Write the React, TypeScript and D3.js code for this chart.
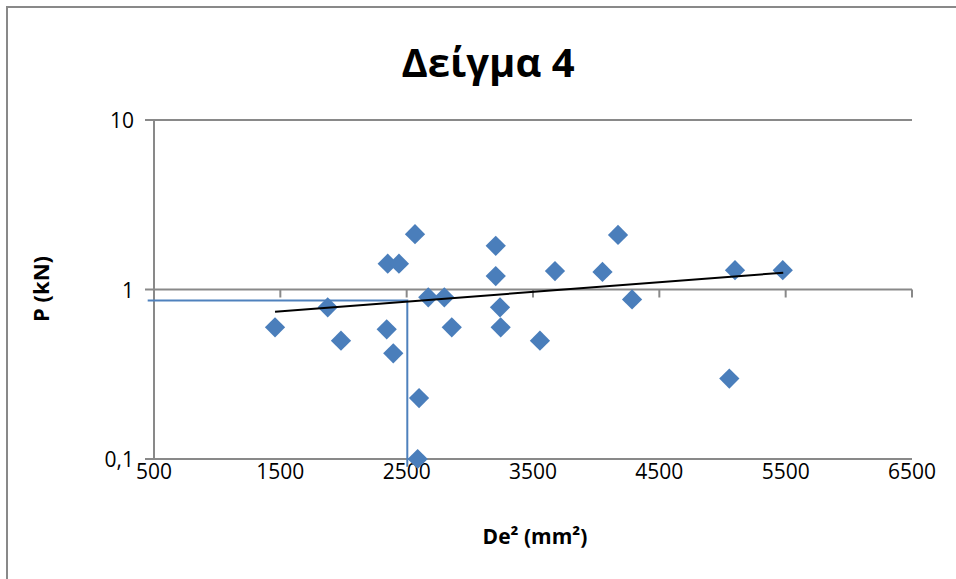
import React, { useEffect, useRef } from 'react';
import * as d3 from 'd3';

// De^2 (mm^2) and P (kN)
const de2 = [1458, 1875, 1980, 2342, 2394, 2350, 2439, 2566, 2598, 2587, 2671, 2798, 2857,
  3205, 3205, 3239, 3244, 3555, 3674, 4050, 4173, 4284, 5054, 5099, 5477];
const pKn = [0.598, 0.785, 0.499, 0.582, 0.42, 1.42, 1.42, 2.12, 0.229, 0.1, 0.9, 0.9, 0.598,
  1.81, 1.2, 0.785, 0.598, 0.499, 1.285, 1.27, 2.1, 0.873, 0.298, 1.3, 1.3];

// exponential trendline ends
const trendX = [1458, 5481];
const trendP = [0.74, 1.256];

// hand drawn guide lines
const guideX = [450, 2505, 2505];
const guideP = [0.86, 0.86, 0.09];

const xTicks = [500, 1500, 2500, 3500, 4500, 5500, 6500];
const yTicks = [0.1, 1, 10];
const yTickLabels = ['0,1', '1', '10'];

const title = 'Δείγμα 4';
const xTitle = 'De² (mm²)';
const yTitle = 'P (kN)';

const W = 956;
const H = 579;
const font = '"Open Sans", "Noto Sans", sans-serif';

export default function App() {
  const ref = useRef<SVGSVGElement>(null);

  useEffect(() => {
    const svg = d3.select(ref.current);
    svg.selectAll('*').remove();

    const x = d3.scaleLinear().domain([500, 6500]).range([154, 912]);
    const y = d3.scaleLog().domain([0.1, 10]).range([459, 120]);
    const grey = '#898989';

    svg.append('rect')
      .attr('width', W).attr('height', H).attr('fill', '#fff');

    svg.append('rect')
      .attr('x', 7).attr('y', 7)
      .attr('width', W + 20).attr('height', H + 20)
      .attr('fill', 'none').attr('stroke', grey).attr('stroke-width', 2);

    svg.append('text')
      .attr('x', 488).attr('y', 61)
      .attr('text-anchor', 'middle').attr('dominant-baseline', 'central')
      .attr('font-family', font).attr('font-weight', 'bold').attr('font-size', 40)
      .text(title);

    // gridlines / axis lines
    svg.append('g')
      .selectAll('line')
      .data(yTicks)
      .join('line')
      .attr('x1', x(500) - 9).attr('x2', x(6500))
      .attr('y1', (d) => y(d)).attr('y2', (d) => y(d))
      .attr('stroke', grey).attr('stroke-width', 2);

    svg.append('line')
      .attr('x1', x(500)).attr('x2', x(500))
      .attr('y1', y(10)).attr('y2', y(0.1))
      .attr('stroke', grey).attr('stroke-width', 2);

    // x axis crosses at P = 1
    svg.append('g')
      .selectAll('line')
      .data(xTicks.slice(1))
      .join('line')
      .attr('x1', (d) => x(d)).attr('x2', (d) => x(d))
      .attr('y1', y(1)).attr('y2', y(1) + 8)
      .attr('stroke', grey).attr('stroke-width', 2);

    svg.append('g')
      .attr('font-family', font).attr('font-size', 21)
      .selectAll('text')
      .data(xTicks)
      .join('text')
      .attr('x', (d) => x(d)).attr('y', 471)
      .attr('text-anchor', 'middle').attr('dominant-baseline', 'central')
      .text((d) => d);

    svg.append('g')
      .attr('font-family', font).attr('font-size', 21)
      .selectAll('text')
      .data(yTicks)
      .join('text')
      .attr('x', 134).attr('y', (d) => y(d))
      .attr('text-anchor', 'end').attr('dominant-baseline', 'central')
      .text((d, i) => yTickLabels[i]);

    svg.append('text')
      .attr('x', 535).attr('y', 536)
      .attr('text-anchor', 'middle').attr('dominant-baseline', 'central')
      .attr('font-family', font).attr('font-weight', 'bold').attr('font-size', 21)
      .text(xTitle);

    svg.append('text')
      .attr('transform', 'translate(40,289) rotate(-90)')
      .attr('text-anchor', 'middle').attr('dominant-baseline', 'central')
      .attr('font-family', font).attr('font-weight', 'bold').attr('font-size', 22)
      .text(yTitle);

    const line = d3.line<number>()
      .x((d, i) => x(guideX[i]))
      .y((d) => y(d));

    svg.append('path')
      .attr('d', line(guideP))
      .attr('fill', 'none').attr('stroke', '#4f81bd').attr('stroke-width', 2);

    const diamond = d3.symbol().type(d3.symbolSquare).size(205);
    svg.append('g')
      .selectAll('path')
      .data(de2)
      .join('path')
      .attr('transform', (d, i) => `translate(${x(d)},${y(pKn[i])}) rotate(45)`)
      .attr('d', diamond)
      .attr('fill', '#4a7ebb');

    const trend = d3.line<number>()
      .x((d, i) => x(trendX[i]))
      .y((d) => y(d));

    svg.append('path')
      .attr('d', trend(trendP))
      .attr('fill', 'none').attr('stroke', '#000').attr('stroke-width', 2);
  }, []);

  return (
    <svg
      ref={ref}
      width={W}
      height={H}
      style={{ position: 'absolute', left: 0, top: 0, display: 'block' }}
    />
  );
}
